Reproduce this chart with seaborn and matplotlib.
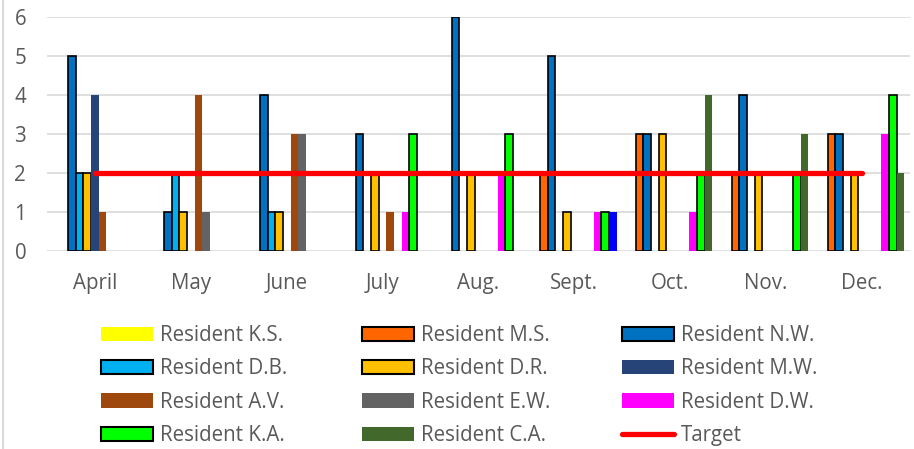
import matplotlib
matplotlib.use("Agg")
import matplotlib.pyplot as plt
import seaborn as sns
import pandas as pd
from matplotlib.patches import Patch
from matplotlib.lines import Line2D

months = ["April", "May", "June", "July", "Aug.", "Sept.", "Oct.", "Nov.", "Dec."]
residents = ["Resident K.S.", "Resident M.S.", "Resident N.W.", "Resident D.B.",
             "Resident D.R.", "Resident M.W.", "Resident A.V.", "Resident E.W.",
             "Resident D.W.", "Resident K.A.", "Resident C.A."]

ks = [0, 0, 0, 0, 0, 0, 0, 0, 0]
ms = [0, 0, 0, 0, 0, 2, 3, 2, 3]
nw = [5, 1, 4, 3, 6, 5, 3, 4, 3]
db = [2, 2, 1, 0, 0, 0, 0, 0, 0]
dr = [2, 1, 1, 2, 2, 1, 3, 2, 2]
mw = [4, 0, 0, 0, 0, 0, 0, 0, 0]
av = [1, 4, 3, 1, 0, 0, 0, 0, 0]
ew = [0, 1, 3, 0, 0, 0, 0, 0, 0]
dw = [0, 0, 0, 1, 2, 1, 1, 0, 3]
ka = [0, 0, 0, 3, 3, 1, 2, 2, 4]
ca = [0, 0, 0, 0, 0, 1, 4, 3, 2]
target = [2, 2, 2, 2, 2, 2, 2, 2, 2]

series = [ks, ms, nw, db, dr, mw, av, ew, dw, ka, ca]
colors = ["#FFFF00", "#FF6600", "#0070C0", "#00B0F0", "#FFC000", "#264478",
          "#9E480E", "#636363", "#FF00FF", "#00FF00", "#43682B"]
outlined = [False, True, True, True, True, False, False, False, False, True, False]
special_color = "#0000FF"  # recoloured point: Resident C.A., Sept.

rows = []
for name, vals in zip(residents, series):
    for m, v in zip(months, vals):
        rows.append({"month": m, "resident": name, "value": v})
df = pd.DataFrame(rows)

sns.set_theme(style="white")
plt.rcParams["font.family"] = ["Open Sans", "DejaVu Sans"]
text_color = "#595959"
fs = 14.8

fig = plt.figure(figsize=(9.14, 4.49), dpi=100)
ax = fig.add_axes([47 / 914, 1 - 250.7 / 449, (910 - 47) / 914, (250.7 - 16.7) / 449])

sns.barplot(data=df, x="month", y="value", hue="resident", order=months,
            hue_order=residents, palette=colors, saturation=1, width=0.88,
            dodge=True, legend=False, ax=ax, errorbar=None)

for i, cont in enumerate(ax.containers):
    for j, bar in enumerate(cont):
        if bar.get_height() == 0:
            bar.set_visible(False)
            continue
        if outlined[i]:
            bar.set_edgecolor("black")
            bar.set_linewidth(1.2)
        else:
            bar.set_edgecolor("none")
        bar.set_zorder(3)
        if residents[i] == "Resident C.A." and months[j] == "Sept.":
            bar.set_facecolor(special_color)

ax.plot(range(len(months)), target, color="#FF0000", lw=3.8,
        solid_capstyle="round", zorder=5)

ax.set_xlim(-0.5, len(months) - 0.5)
ax.set_ylim(0, 6)
ax.set_yticks(range(0, 7))
ax.grid(axis="y", color="#D9D9D9", lw=1.2, zorder=0)
ax.set_axisbelow(True)
for s in ax.spines.values():
    s.set_visible(False)
ax.set_xlabel("")
ax.set_ylabel("")
ax.tick_params(axis="both", length=0, labelsize=fs, colors=text_color)
ax.tick_params(axis="x", pad=16)
ax.tick_params(axis="y", pad=15)

# legend, three columns (row-major order as in the reference)
handles = []
for name, c, o in zip(residents, colors, outlined):
    handles.append(Patch(facecolor=c, edgecolor="black" if o else c,
                         linewidth=1.5 if o else 0, label=name))
handles.append(Line2D([0], [0], color="#FF0000", lw=3.8,
                      solid_capstyle="round", label="Target"))
col_x = [101, 362, 622]
for k in range(3):
    hs = handles[k::3]
    fig.legend(handles=hs, loc="upper left",
               bbox_to_anchor=(col_x[k] / 914, 1 - 325 / 449),
               frameon=False, fontsize=fs, handlelength=2.55,
               handleheight=0.7, handletextpad=0.3,
               labelspacing=0.6, borderpad=0, borderaxespad=0,
               labelcolor=text_color)

fig.add_artist(Line2D([0.003, 0.003], [0, 1], transform=fig.transFigure,
                      color="#D9D9D9", lw=1.5))

fig.savefig("out.png", dpi=100)
